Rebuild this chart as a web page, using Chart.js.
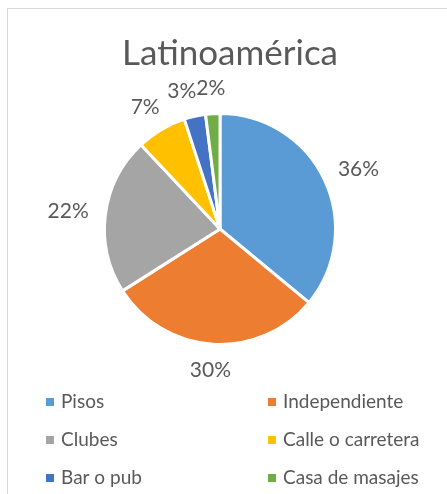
<!DOCTYPE html>
<html>
<head>
<meta charset="utf-8">
<script src="https://cdn.jsdelivr.net/npm/chart.js@4/dist/chart.umd.min.js"></script>
<style>
  html, body { margin: 0; padding: 0; background: #fff; }
  #wrap { width: 447px; height: 494px; }
</style>
</head>
<body>
<div id="wrap"><canvas id="chart"></canvas></div>
<script>
var titleText = "Latinoamérica";
var labels = ["Pisos", "Independiente", "Clubes", "Calle o carretera", "Bar o pub", "Casa de masajes"];
var values = [36, 30, 22, 7, 3, 2];
var colors = ["#5B9BD5", "#ED7D31", "#A5A5A5", "#FFC000", "#4472C4", "#70AD47"];

var textColor = "#595959";
var fontFamily = "Lato, 'Open Sans', sans-serif";

// frame, title, outside labels and a 2-column legend, Excel style
var excelBits = {
  id: "excelBits",
  beforeDraw: function (chart) {
    var c = chart.ctx;
    c.save();
    c.strokeStyle = "#D9D9D9";
    c.lineWidth = 1;
    c.strokeRect(7.5, 8.5, 600, 600);
    c.restore();
  },
  afterDraw: function (chart) {
    var c = chart.ctx;
    c.save();
    c.fillStyle = textColor;

    // title
    c.font = "35px " + fontFamily;
    c.textAlign = "center";
    c.textBaseline = "alphabetic";
    c.fillText(titleText, 230, 65);

    // percent labels outside the slices
    var meta = chart.getDatasetMeta(0);
    var total = values.reduce(function (a, b) { return a + b; }, 0);
    c.font = "21px " + fontFamily;
    c.textBaseline = "middle";
    var boxes = meta.data.map(function (arc, i) {
      var p = arc.getProps(["x", "y", "startAngle", "endAngle", "outerRadius"], true);
      var mid = (p.startAngle + p.endAngle) / 2;
      var txt = Math.round(values[i] / total * 100) + "%";
      var w = c.measureText(txt).width;
      var h = 18;
      var r = p.outerRadius + 17;
      return {
        txt: txt, w: w, h: h,
        x: p.x + Math.cos(mid) * r + Math.cos(mid) * w / 2,
        y: p.y + Math.sin(mid) * r + Math.sin(mid) * h / 2
      };
    });
    // small slices at the end: push a label left when it runs into the next one
    for (var i = boxes.length - 2; i >= 0; i--) {
      var a = boxes[i], b = boxes[i + 1];
      var overlapX = (a.x + a.w / 2) - (b.x - b.w / 2);
      var overlapY = Math.abs(a.y - b.y) < (a.h + b.h) / 2;
      if (overlapY && overlapX > 0 && a.x < b.x) a.x -= overlapX;
    }
    boxes.forEach(function (b) { c.fillText(b.txt, b.x, b.y); });

    // legend
    c.font = "19px " + fontFamily;
    c.textAlign = "left";
    c.textBaseline = "alphabetic";
    labels.forEach(function (lab, i) {
      var col = i % 2, row = Math.floor(i / 2);
      var bx = col === 0 ? 46 : 268;
      var base = 408 + row * 38;
      c.fillStyle = colors[i];
      c.fillRect(bx, base - 10, 8, 8);
      c.fillStyle = textColor;
      c.fillText(lab, bx + 15, base);
    });
    c.restore();
  }
};

new Chart(document.getElementById("chart"), {
  type: "pie",
  data: {
    labels: labels,
    datasets: [{
      data: values,
      backgroundColor: colors,
      borderColor: "#ffffff",
      borderWidth: 3,
      hoverOffset: 0
    }]
  },
  options: {
    responsive: true,
    maintainAspectRatio: false,
    animation: false,
    layout: { padding: { left: 103, top: 112, right: 110, bottom: 148 } },
    plugins: {
      legend: { display: false },
      title: { display: false },
      tooltip: { enabled: false }
    }
  },
  plugins: [excelBits]
});
</script>
</body>
</html>
